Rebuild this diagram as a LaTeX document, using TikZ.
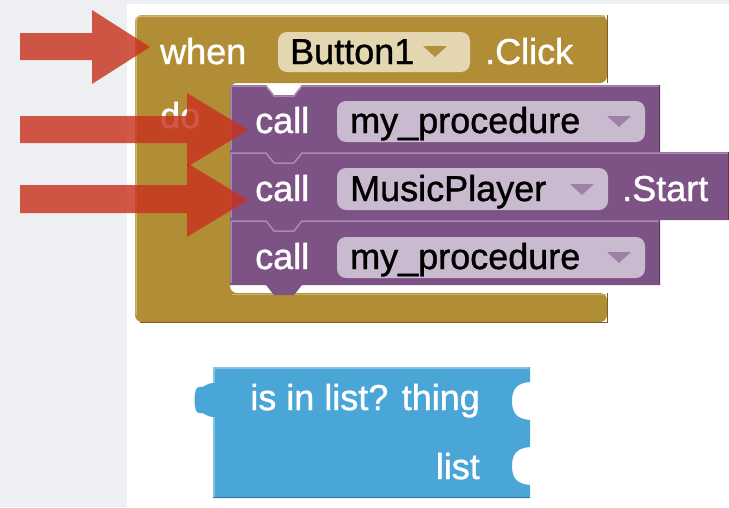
\documentclass[tikz,border=0pt]{standalone}
\usepackage{fontspec}
\setmainfont{Liberation Sans}
\newfontfamily\blockfont{Liberation Sans}[BoldFont={Liberation Sans},BoldFeatures={FakeBold=1.1}]
\usetikzlibrary{calc}
\definecolor{pagegray}{RGB}{238,239,243}
\definecolor{evgold}{RGB}{177,142,53}
\definecolor{evgoldlight}{RGB}{206,182,118}
\definecolor{evgolddark}{RGB}{122,96,32}
\definecolor{evfield}{RGB}{228,214,176}
\definecolor{evtri}{RGB}{178,144,62}
\definecolor{procpurple}{RGB}{125,83,133}
\definecolor{procedge}{RGB}{168,138,175}
\definecolor{procdark}{RGB}{88,56,95}
\definecolor{procfield}{RGB}{202,186,207}
\definecolor{proctri}{RGB}{158,128,166}
\definecolor{listblue}{RGB}{75,166,216}
\definecolor{listlight}{RGB}{132,196,232}
\definecolor{listdark}{RGB}{44,122,168}
\definecolor{hintred}{RGB}{200,50,30}
\tikzset{
    blocktext/.style={anchor=base west,inner sep=0pt,text=white,font=\blockfont\bfseries\fontsize{36}{40}\selectfont},
    fieldtext/.style={blocktext,text=black},
    fieldbox/.style={rounded corners=9pt},
    hintarrow/.style={fill=hintred,fill opacity=0.82},
}

\begin{document}
\begin{tikzpicture}[x=1pt,y=-1pt]
    \useasboundingbox (0,0) rectangle (729,507);
    % page behind the blocks
    \fill[pagegray] (0,0) rectangle (127,507);
    \fill[pagegray] (127,0) rectangle (729,4);

    % event block
    \fill[evgold,rounded corners=7pt] (135,15) -- (607,15) -- (607,83) -- (230,83) -- (230,293) -- (607,293) -- (607,322) -- (135,322) -- cycle;
    \draw[evgoldlight,line width=1.5pt] (136,315) -- (136,21) arc (180:270:5) -- (605,16);
    \draw[evgoldlight,line width=1.5pt] (232,294.5) -- (606,294.5);
    \draw[evgolddark,line width=1pt] (140,322) -- (607,322) -- (607,293);
    \draw[evgolddark,line width=1pt] (607,15) -- (607,83);
    \fill[evfield,fieldbox] (278,32) rectangle (470,72);
    \fill[evtri] (423,46) -- (447,46) -- (435,57) -- cycle;
    \node[blocktext] (when) at (160,64) {when};
    \node[fieldtext] (button) at (290,64) {Button1};
    \node[blocktext] (click) at (485,64) {.Click};
    \node[blocktext] (do) at (160,128) {do};

    % procedure calls
    \foreach \tp/\bt/\rt in {85/152/660,152/220/729,220/285/660} {
        \fill[procpurple] (230,\tp) -- (266,\tp) -- (274,\tp+10) -- (294,\tp+10) -- (302,\tp) -- (\rt,\tp) -- (\rt,\bt) -- (302,\bt) -- (294,\bt+10) -- (274,\bt+10) -- (266,\bt) -- (230,\bt) -- cycle;
        \draw[procedge,line width=1.5pt] (231,\bt-2) -- (231,\tp+1) -- (266,\tp+1) -- (274,\tp+11) -- (294,\tp+11) -- (302,\tp+1) -- (\rt-1,\tp+1);
        \draw[procdark,line width=1pt] (\rt-0.5,\tp) -- (\rt-0.5,\bt);
    }
    \fill[procfield,fieldbox] (337,101) rectangle (645,142);
    \fill[procfield,fieldbox] (337,168) rectangle (608,210);
    \fill[procfield,fieldbox] (337,237) rectangle (645,278);
    \fill[proctri] (607,116) -- (631,116) -- (619,127) -- cycle;
    \fill[proctri] (570,184) -- (594,184) -- (582,195) -- cycle;
    \fill[proctri] (607,252) -- (631,252) -- (619,263) -- cycle;
    \node[blocktext] (callA) at (255,133) {call};
    \node[fieldtext] (procA) at (350,133) {my\_procedure};
    \node[blocktext] (callB) at (255,201) {call};
    \node[fieldtext] (player) at (350,201) {MusicPlayer};
    \node[blocktext] (start) at (622,201) {.Start};
    \node[blocktext] (callC) at (255,269) {call};
    \node[fieldtext] (procC) at (350,269) {my\_procedure};

    % list block
    \fill[listblue] (213,367) -- (530,367) -- (530,382) .. controls (516,383) and (512,390) .. (512,401) .. controls (512,412) and (516,419) .. (530,420) -- (530,447) .. controls (516,448) and (512,455) .. (512,466) .. controls (512,477) and (516,484) .. (530,485) -- (530,498) -- (213,498) -- (213,417) .. controls (206,417) and (205,412) .. (199,413) .. controls (193,414) and (193,386) .. (199,387) .. controls (205,388) and (206,383) .. (213,383) -- cycle;
    \draw[listlight,line width=1.5pt] (214,497) -- (214,417);
    \draw[listlight,line width=1.5pt] (214,383) -- (214,368) -- (529,368);
    \draw[listdark,line width=1.5pt] (213,497.5) -- (530,497.5);
    \node[blocktext,anchor=base east] (isin) at (480,410) {is in list? thing};
    \node[blocktext,anchor=base east] (lst) at (480,479) {list};

    % pointers
    \fill[hintarrow] (20,33) -- (92,33) -- (92,10) -- (150,47) -- (92,84) -- (92,60) -- (20,60) -- cycle;
    \fill[hintarrow] (20,116) -- (187,116) -- (187,93) -- (248,130) -- (187,167) -- (187,143) -- (20,143) -- cycle;
    \fill[hintarrow] (20,185) -- (187,185) -- (187,163) -- (248,200) -- (187,237) -- (187,213) -- (20,213) -- cycle;
\end{tikzpicture}
\end{document}
